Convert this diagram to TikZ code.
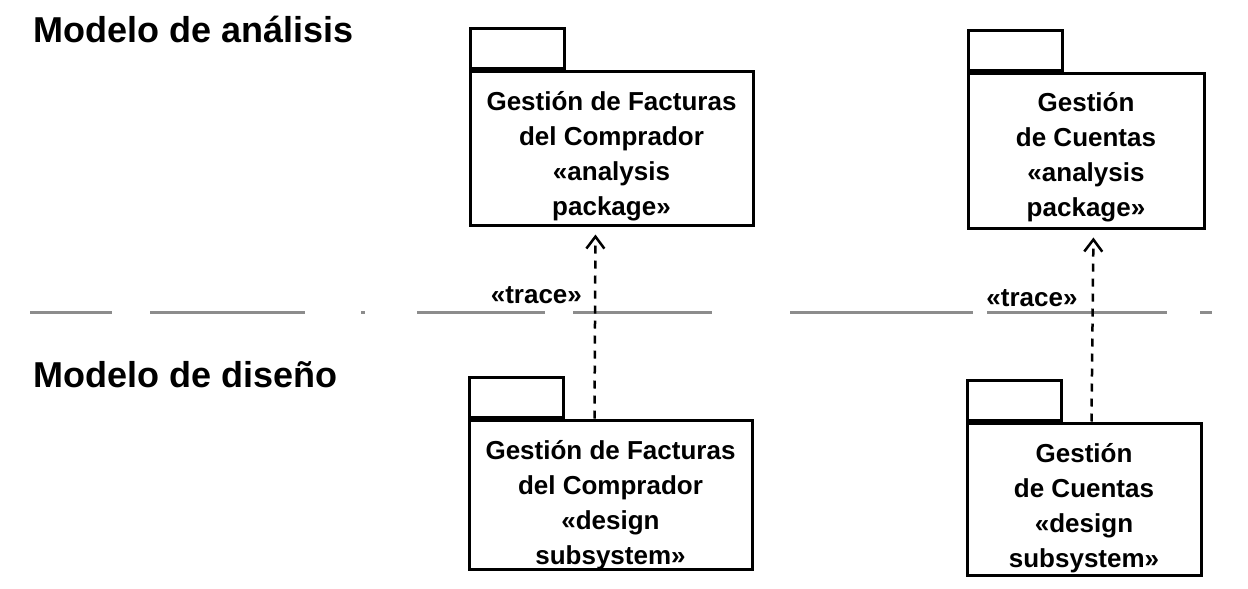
\documentclass[tikz,border=0pt]{standalone}
\usepackage{fontspec}
\setmainfont{Liberation Sans}
\usetikzlibrary{arrows.meta, positioning}

\begin{document}
\begin{tikzpicture}[x = 1pt, y = -1pt,
		pkg/.style = {draw, line width = 3pt, inner sep = 0pt},
		pkgtext/.style = {align = center, inner sep = 0pt, font = \fontsize{26}{35}\selectfont\bfseries},
		tab/.style = {draw, line width = 3pt, minimum width = 94pt, minimum height = 40pt, inner sep = 0pt, anchor = south west},
		trace/.style = {line width = 2.5pt, dash pattern = on 8pt off 7pt, -{Straight Barb[length = 12pt, width = 18pt, line width = 2.5pt]}, shorten > = 8pt},
		tracelabel/.style = {inner sep = 0pt, font = \fontsize{26}{35}\selectfont\bfseries},
		title/.style = {anchor = base west, inner sep = 0pt, font = \fontsize{36}{40}\selectfont\bfseries},
		sep/.style = {black!45, line width = 3pt}]
	\useasboundingbox (0,0) rectangle (1248,589);

	\node [title] (analisis) at (33,42) {Modelo de análisis};
	\node [title] (diseno) at (33,387) {Modelo de diseño};

	% separator between the two models
	\foreach \a/\b in {30/112, 150/305, 361/365, 417/545, 573/712, 790/973, 987/1167, 1200/1212}
	{
		\draw [sep] (\a,312) -- (\b,312);
	}

	% analysis packages
	\node [pkg, minimum width = 283pt, minimum height = 154pt] (afact) at (611.5,148) {};
	\node [tab] (afacttab) at (afact.north west) {};
	\node [pkgtext] (afacttext) at ([yshift = -8pt]afact.center) {Gestión de Facturas\\del Comprador\\«analysis\\package»};

	\node [pkg, minimum width = 236pt, minimum height = 155pt] (acuen) at (1086,150.5) {};
	\node [tab] (acuentab) at (acuen.north west) {};
	\node [pkgtext] (acuentext) at ([yshift = -7pt]acuen.center) {Gestión\\de Cuentas\\«analysis\\package»};

	% design subsystems
	\node [pkg, minimum width = 283pt, minimum height = 149pt] (dfact) at (610.5,494.5) {};
	\node [tab] (dfacttab) at (dfact.north west) {};
	\node [pkgtext] (dfacttext) at ([yshift = -11pt]dfact.center) {Gestión de Facturas\\del Comprador\\«design\\subsystem»};

	\node [pkg, minimum width = 234pt, minimum height = 152pt] (dcuen) at (1084,499) {};
	\node [tab] (dcuentab) at (dcuen.north west) {};
	\node [pkgtext] (dcuentext) at ([yshift = -9pt]dcuen.center) {Gestión\\de Cuentas\\«design\\subsystem»};

	% trace dependencies
	\draw [trace] ([xshift = -16pt]dfact.north) -- ([xshift = -16pt]afact.south) node [tracelabel, pos = 0.64, left = 12pt] {«trace»};
	\draw [trace] ([xshift = 7.5pt]dcuen.north) -- ([xshift = 7.5pt]acuen.south) node [tracelabel, pos = 0.64, left = 14pt] {«trace»};
\end{tikzpicture}
\end{document}
